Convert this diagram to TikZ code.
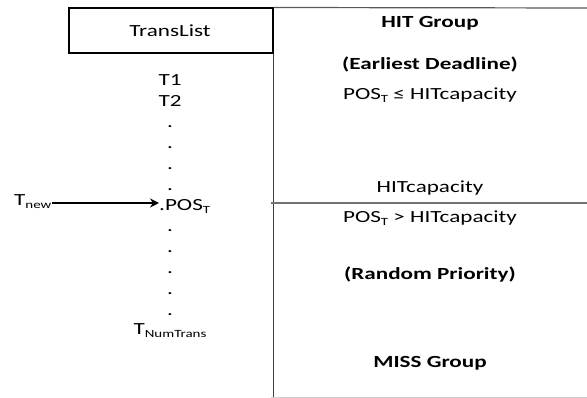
\documentclass[tikz,border=0pt]{standalone}
\usepackage{fontspec}
\setmainfont{Carlito}[FakeStretch=1.36]
\usetikzlibrary{arrows.meta}
\newcommand{\ldot}[2]{
\node[txt] (#1) at (170,#2) {.};
%\fill (170,#2-2) circle (0.8);
 }
\newcommand{\sbs}[1]{\raisebox{-0.35ex}{\fontsize{11}{11}\selectfont #1}}
\tikzset{
txt/.style={font=\fontsize{17}{20}\selectfont, inner sep=0pt, anchor=base},
bld/.style={txt, font=\fontsize{17}{20}\selectfont\bfseries},
}

\begin{document}
\begin{tikzpicture}[x=1pt,y=-1pt]
\useasboundingbox (0,0) rectangle (587,398);

\node[draw, line width=2pt, minimum width=204pt, minimum height=45pt, inner sep=0pt] (translist) at (170.5,31) {};
\node[txt] (tl) at (170,37) {TransList};

\node[txt] (t1) at (170,86) {T1};
\node[txt] (t2) at (170,107) {T2};
\ldot{d1}{128}
\ldot{d2}{149}
\ldot{d3}{170}
\ldot{d4}{191}
\node[txt, anchor=base west] (pos) at (159,211) {.POS\sbs{T}};
\ldot{d5}{232}
\ldot{d6}{253}
\ldot{d7}{274}
\ldot{d8}{295}
\ldot{d9}{316}
\node[txt] (tlast) at (170,335) {T\sbs{NumTrans}};

\node[txt, anchor=base west] (tnew) at (14,206) {T\sbs{new}};
\draw[line width=1.6pt, -{Stealth[length=9pt,width=9pt]}] (tnew.east |- 0,203) -- (pos.west |- 0,203);

% right column
\draw[line width=1.2pt, color=black!65] (translist.north east) -- (587,8);
\draw[line width=1.6pt, color=black!75] (translist.south east) -- (translist.south east |- 0,398);
\draw[line width=1.2pt, color=black!55] (271,203) -- (587,203);
\draw[line width=0.8pt, color=black!20] (271,397) -- (587,397);

\node[bld] (hit) at (430,28) {HIT Group};
\node[bld] (edf) at (430,70) {(Earliest Deadline)};
\node[txt] (le) at (430,100) {POS\sbs{T} ≤ HITcapacity};
\node[txt] (cap) at (430,193) {HITcapacity};
\node[txt] (gt) at (430,223) {POS\sbs{T} > HITcapacity};
\node[bld] (rnd) at (430,280) {(Random Priority)};
\node[bld] (miss) at (430,367) {MISS Group};

\end{tikzpicture}
\end{document}
